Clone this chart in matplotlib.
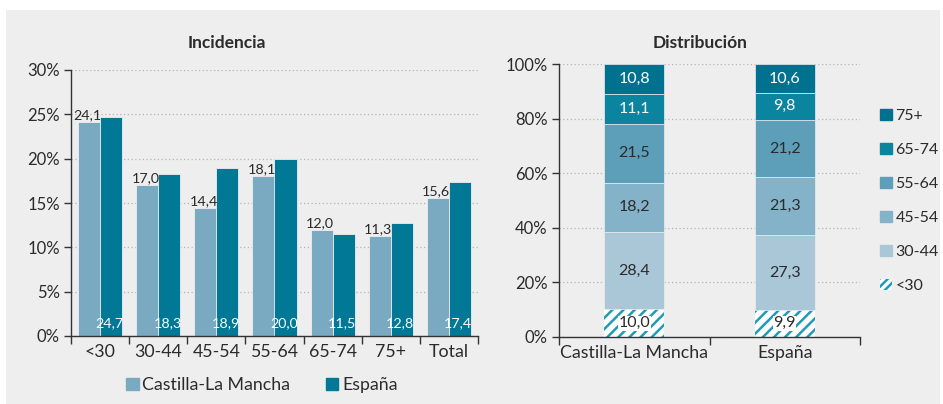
import matplotlib
matplotlib.use("Agg")
import matplotlib.pyplot as plt
from matplotlib.patches import Patch, Rectangle
import numpy as np

plt.rcParams['font.family'] = ['Lato', 'DejaVu Sans']
plt.rcParams['hatch.linewidth'] = 1.8
plt.rcParams['hatch.color'] = '#1f9bb8'

# incidencia data
groups = ['<30', '30-44', '45-54', '55-64', '65-74', '75+', 'Total']
clm_inc = [24.1, 17.0, 14.4, 18.1, 12.0, 11.3, 15.6]
esp_inc = [24.7, 18.3, 18.9, 20.0, 11.5, 12.8, 17.4]

# distribucion data (bottom to top)
regions = ['Castilla-La Mancha', 'España']
dist_labels = ['<30', '30-44', '45-54', '55-64', '65-74', '75+']
clm_dist = [10.0, 28.4, 18.2, 21.5, 11.1, 10.8]
esp_dist = [9.9, 27.3, 21.3, 21.2, 9.8, 10.6]

c_clm = '#79aac2'
c_esp = '#007896'
dist_colors = ['white', '#a9c7d7', '#84b2c8', '#5d9fb9', '#0b84a0', '#00728f']
text_dark = '#2b2b2b'
bg = '#eeeeee'

fig = plt.figure(figsize=(9.43, 4.04), dpi=100)
fig.patch.set_facecolor('white')
fig.patches.append(Rectangle((6 / 943, 0), 934 / 943, 394 / 404, transform=fig.transFigure,
                             facecolor=bg, edgecolor='none', zorder=-10))


def style_axes(ax):
    ax.set_facecolor('none')
    for s in ['top', 'right']:
        ax.spines[s].set_visible(False)
    for s in ['left', 'bottom']:
        ax.spines[s].set_color('#333333')
        ax.spines[s].set_linewidth(1.0)
    ax.yaxis.grid(True, linestyle=(0, (1, 2)), color='#b5b5b5', linewidth=0.9)
    ax.set_axisbelow(True)
    ax.tick_params(axis='y', length=5, width=1, color='#333333', labelsize=12,
                   labelcolor=text_dark, pad=3)
    ax.tick_params(axis='x', which='major', length=0, labelsize=12.8, labelcolor=text_dark, pad=6)
    ax.tick_params(axis='x', which='minor', length=6, width=1, color='#333333')


# ---- left: Incidencia ----
ax1 = fig.add_axes([71 / 943, 1 - 336 / 404, 407 / 943, 266 / 404])
style_axes(ax1)
x = np.arange(len(groups))
w = 0.38
ax1.bar(x - w / 2, clm_inc, w, color=c_clm, edgecolor=bg, linewidth=0.6, label='Castilla-La Mancha')
ax1.bar(x + w / 2, esp_inc, w, color=c_esp, edgecolor=bg, linewidth=0.6, label='España')
for i in range(len(groups)):
    ax1.annotate(f'{clm_inc[i]:.1f}'.replace('.', ','), (x[i], clm_inc[i]),
                 xytext=(1, 0.5), textcoords='offset points', ha='right', va='bottom',
                 fontsize=10.3, color=text_dark)
    ax1.annotate(f'{esp_inc[i]:.1f}'.replace('.', ','), (x[i] + w, 0),
                 xytext=(1, 5), textcoords='offset points', ha='right', va='bottom',
                 fontsize=10.3, color='white')
ax1.set_xlim(-0.5, len(groups) - 0.5)
ax1.set_ylim(0, 30)
ax1.set_yticks([0, 5, 10, 15, 20, 25, 30])
ax1.set_yticklabels([f'{v}%' for v in [0, 5, 10, 15, 20, 25, 30]])
ax1.set_xticks(x)
ax1.set_xticklabels(groups)
ax1.set_xticks(np.arange(-0.5, len(groups)), minor=True)
fig.text(227 / 943, 1 - 43 / 404, 'Incidencia', ha='center', va='center',
         fontsize=12.5, fontweight='bold', color=text_dark)
fig.legend(handles=[Patch(color=c_clm, label='Castilla-La Mancha'),
                    Patch(color=c_esp, label='España')],
           loc='center', bbox_to_anchor=(262 / 943, 1 - 385 / 404), ncol=2,
           frameon=False, fontsize=12.8, handlelength=0.7, handleheight=0.7,
           handletextpad=0.2, columnspacing=2.0, labelcolor=text_dark)

# ---- right: Distribucion ----
ax2 = fig.add_axes([559 / 943, 1 - 336.7 / 404, 301 / 943, 272.4 / 404])
style_axes(ax2)
xr = np.arange(len(regions))
wr = 0.4
bottoms = np.zeros(len(regions))
handles = []
for k, lab in enumerate(dist_labels):
    vals = np.array([clm_dist[k], esp_dist[k]])
    if k == 0:
        ax2.bar(xr, vals, wr, bottom=bottoms, facecolor='white', edgecolor='#1f9bb8',
                linewidth=0, hatch='///')
        handles.append(Patch(facecolor='white', edgecolor='#1f9bb8', linewidth=0,
                             hatch='////', label=lab))
    else:
        ax2.bar(xr, vals, wr, bottom=bottoms, color=dist_colors[k], edgecolor=bg, linewidth=0.5)
        handles.append(Patch(color=dist_colors[k], label=lab))
    tc = 'white' if k >= 4 else text_dark
    for j in range(len(regions)):
        t = ax2.text(xr[j], bottoms[j] + vals[j] / 2, f'{vals[j]:.1f}'.replace('.', ','),
                     ha='center', va='center', fontsize=11.5, color=tc)
        if k == 0:
            t.set_bbox(dict(facecolor='white', edgecolor='none', pad=0.3))
    bottoms = bottoms + vals
ax2.set_xlim(-0.5, len(regions) - 0.5)
ax2.set_ylim(0, 100)
ax2.set_yticks([0, 20, 40, 60, 80, 100])
ax2.set_yticklabels([f'{v}%' for v in [0, 20, 40, 60, 80, 100]])
ax2.set_xticks(xr)
ax2.set_xticklabels(regions)
ax2.set_xticks(np.arange(-0.5, len(regions)), minor=True)
fig.text(700 / 943, 1 - 43 / 404, 'Distribución', ha='center', va='center',
         fontsize=12.5, fontweight='bold', color=text_dark)
fig.legend(handles=handles[::-1], loc='center left', bbox_to_anchor=(866 / 943, 1 - 201 / 404),
           frameon=False, fontsize=11.5, handlelength=0.7, handleheight=0.7,
           handletextpad=0.25, labelspacing=1.25, labelcolor=text_dark)

fig.savefig('out.png', dpi=100, facecolor='white')
